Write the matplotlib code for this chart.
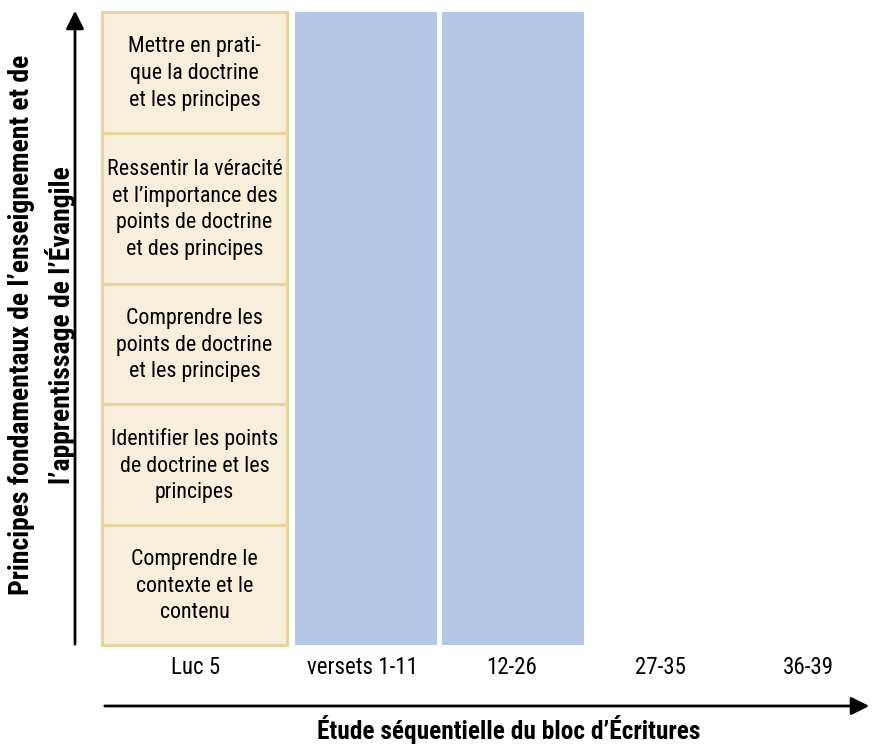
import matplotlib
matplotlib.use('Agg')
import matplotlib.pyplot as plt
from matplotlib.patches import FancyArrowPatch

# data
steps = ['Luc 5', 'versets 1-11', '12-26', '27-35', '36-39']
highlighted = [False, True, True, False, False]   # blue columns
principles = ['Mettre en prati-\nque la doctrine\net les principes',
              'Ressentir la véracité\net l\u2019importance des\npoints de doctrine\net des principes',
              'Comprendre les\npoints de doctrine\net les principes',
              'Identifier les points\nde doctrine et les\nprincipes',
              'Comprendre le\ncontexte et le\ncontenu']
ylabel = 'Principes fondamentaux de l\u2019enseignement et de\nl\u2019apprentissage de l\u2019Évangile'
xlabel = 'Étude séquentielle du bloc d\u2019Écritures'

# layout (pixels)
col_left = [102, 295, 442, 590, 738]
col_width = [185, 142, 142, 142, 142]
label_x = [196, 362, 512, 660, 808]
row_edges = [12, 133, 284, 404, 525, 645]

beige = '#F7EFDC'
beige_edge = '#E9D49B'
blue = '#B4C7E7'
plt.rcParams['font.family'] = ['Roboto Condensed', 'Roboto', 'DejaVu Sans']

fig = plt.figure(figsize=(8.72, 7.46), dpi=100)
ax = fig.add_axes([0, 0, 1, 1])
ax.set_xlim(0, 872)
ax.set_ylim(746, 0)
ax.axis('off')

# blue columns
for i, on in enumerate(highlighted):
    if on:
        ax.bar(col_left[i], row_edges[-1] - row_edges[0], width=col_width[i],
               bottom=row_edges[0], align='edge', color=blue, linewidth=0)

# beige principle boxes
for j, txt in enumerate(principles):
    top, bot = row_edges[j], row_edges[j + 1]
    ax.bar(col_left[0], bot - top, width=col_width[0], bottom=top, align='edge',
           color=beige, edgecolor=beige_edge, linewidth=2.2)
    ax.text(col_left[0] + col_width[0] / 2, (top + bot) / 2 + 1, txt,
            ha='center', va='center', fontsize=15.8, linespacing=1.36, color='black')

# step labels
for x, s in zip(label_x, steps):
    ax.text(x, 668, s, ha='center', va='center', fontsize=16.5, color='black')

# arrows
ax.add_patch(FancyArrowPatch((75, 647), (75, 8), arrowstyle='-|>,head_length=9,head_width=4.5',
                             color='black', linewidth=2, mutation_scale=1.2))
ax.add_patch(FancyArrowPatch((102, 706), (872, 706), arrowstyle='-|>,head_length=9,head_width=4.5',
                             color='black', linewidth=2, mutation_scale=1.2))

ax.text(42, 325, ylabel, rotation=90, ha='center', va='center', fontsize=20,
        fontweight='bold', linespacing=1.4)
ax.text(509, 729, xlabel, ha='center', va='center', fontsize=18.3, fontweight='bold')

fig.savefig('out.png', dpi=100)
